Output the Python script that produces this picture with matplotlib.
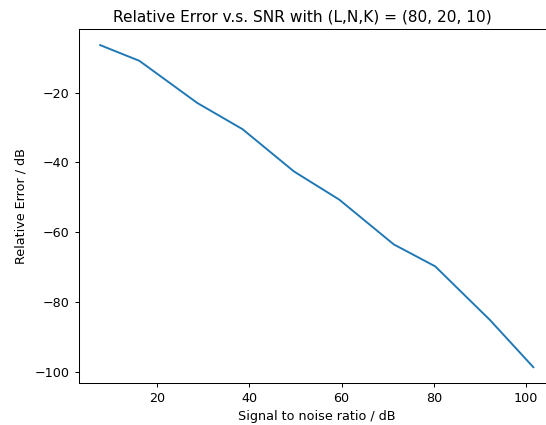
import matplotlib
matplotlib.use("Agg")
import matplotlib.pyplot as plt

# SNR sweep and measured relative error (both in dB)
snr_db = [7.6, 16.1, 28.7, 38.5, 49.65, 59.5, 71.3, 80.3, 92.2, 101.6]
rel_err_db = [-6.4, -10.9, -23.0, -30.5, -42.6, -50.7, -63.5, -69.8, -85.2, -98.7]

L, N, K = 80, 20, 10

dpi = 92
fig = plt.figure(figsize=(546 / dpi, 425 / dpi), dpi=dpi)
# axes run a little past the right edge of the canvas
ax = fig.add_axes([78.5 / 546, 41.7 / 425, (555 - 78.5) / 546, (383.3 - 29) / 425])

ax.plot(snr_db, rel_err_db)

ax.set_title("Relative Error v.s. SNR with (L,N,K) = (%d, %d, %d)" % (L, N, K), x=0.469)
ax.set_xlabel("Signal to noise ratio / dB")
ax.set_ylabel("Relative Error / dB", labelpad=5.5)

fig.savefig("out.png", dpi=dpi)
